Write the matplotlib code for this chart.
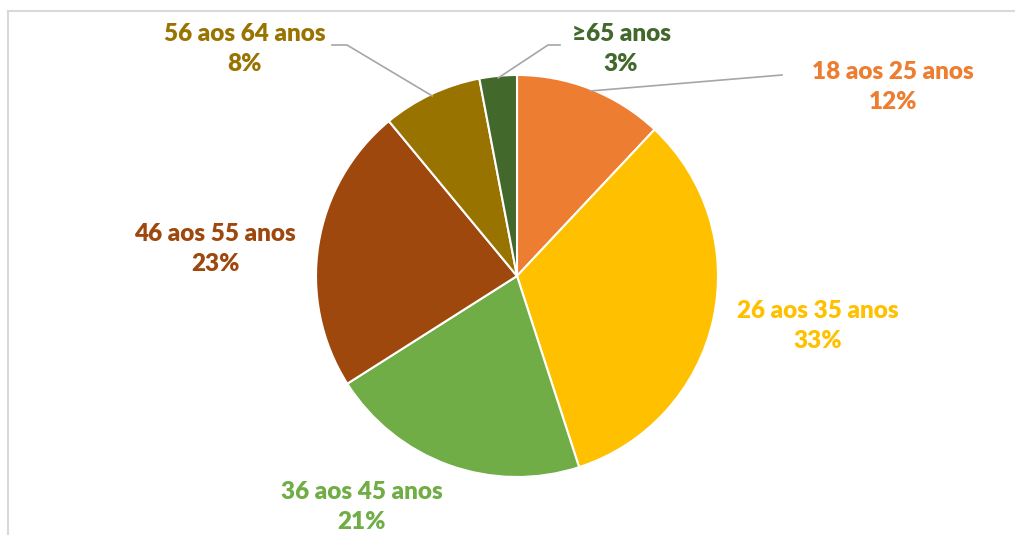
import numpy as np
import matplotlib.pyplot as plt
from matplotlib.lines import Line2D

categories = ["18 aos 25 anos", "26 aos 35 anos", "36 aos 45 anos",
              "46 aos 55 anos", "56 aos 64 anos", "\u226565 anos"]
shares = [12, 33, 21, 23, 8, 3]
colors = ["#ED7D31", "#FFC000", "#70AD47", "#9E480E", "#997300", "#43682B"]

W, H = 1015, 535
fig = plt.figure(figsize=(W / 100, H / 100), dpi=100)

# pie centre / radius in pixels
cx, cy, r = 517, 276, 201
ax = fig.add_axes([(cx - r) / W, (H - cy - r) / H, 2 * r / W, 2 * r / H])
wedges, _ = ax.pie(shares, colors=colors, startangle=90, counterclock=False,
                   radius=1, wedgeprops=dict(edgecolor="white", linewidth=1.5))
ax.set_xlim(-1, 1)
ax.set_ylim(-1, 1)
ax.axis("off")


def px(x, y):
    return (x - cx) / r, (cy - y) / r


# label centres (pixel), and optional leader elbow (pixel)
label_pos = [(893, 87), (818, 326), (362, 507), (215, 249), (245, 49), (621, 49)]
leaders = {0: [(782, 75)], 4: [(332, 45), (347, 45)], 5: [(560, 45), (548, 45)]}

font = dict(family=["Lato", "DejaVu Sans"], fontweight="heavy", fontsize=17.5)
for i, (cat, val) in enumerate(zip(categories, shares)):
    x, y = px(*label_pos[i])
    ax.text(x, y, f"{cat}\n{val}%", color=colors[i], ha="center", va="center",
            linespacing=1.45, clip_on=False, **font)
    if i in leaders:
        w = wedges[i]
        mid = np.deg2rad((w.theta1 + w.theta2) / 2)
        pts = [px(*p) for p in leaders[i]] + [(0.99 * np.cos(mid), 0.99 * np.sin(mid))]
        xs, ys = zip(*pts)
        ax.plot(xs, ys, color="#A6A6A6", lw=1.2, clip_on=False)

# chart area border (top and left visible)
fig.add_artist(Line2D([8 / W, 1], [1 - 11 / H, 1 - 11 / H], color="#D9D9D9", lw=1.5))
fig.add_artist(Line2D([8 / W, 8 / W], [0, 1 - 11 / H], color="#D9D9D9", lw=1.5))

fig.savefig("out.png", dpi=100)
